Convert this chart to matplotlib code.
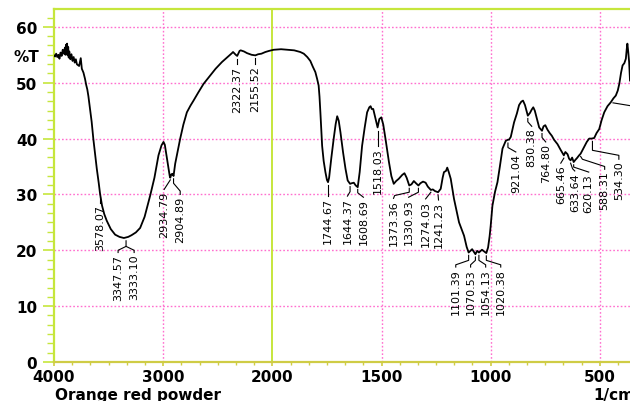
import numpy as np
import matplotlib
matplotlib.use("Agg")
import matplotlib.pyplot as plt
from matplotlib.ticker import AutoMinorLocator

# FTIR spectrum (wavenumber in 1/cm, transmittance in %T)
wavenumber = [
    4000, 3990, 3980, 3970, 3960, 3950, 3940, 3930, 3920, 3910, 3900, 3895,
    3890, 3885, 3880, 3875, 3870, 3865, 3860, 3850, 3840, 3830, 3820, 3810,
    3800, 3790, 3770, 3755, 3745, 3730, 3716, 3705, 3695, 3685, 3670, 3655,
    3640, 3625, 3608, 3590, 3578, 3560, 3540, 3517, 3480, 3440, 3400, 3360,
    3340, 3320, 3290, 3250, 3211, 3170, 3119, 3080, 3043, 3015, 2997, 2985,
    2970, 2955, 2940, 2935, 2925, 2915, 2905, 2890, 2870, 2844, 2815, 2783,
    2750, 2722, 2680, 2630, 2569, 2520, 2462, 2410, 2370, 2360, 2335, 2322,
    2300, 2290, 2260, 2232, 2190, 2156, 2130, 2100, 2064, 2030, 1994, 1960,
    1930, 1900, 1872, 1856, 1840, 1826, 1815, 1803, 1795, 1788, 1784, 1780,
    1776, 1772, 1765, 1757, 1750, 1745, 1740, 1730, 1719, 1710, 1703, 1696,
    1688, 1676, 1665, 1655, 1644, 1637, 1627, 1618, 1609, 1600, 1589, 1577,
    1566, 1556, 1550, 1545, 1538, 1530, 1518, 1510, 1501, 1492, 1482, 1466,
    1455, 1444, 1433, 1421, 1405, 1395, 1385, 1373, 1363, 1352, 1342, 1331,
    1322, 1310, 1298, 1288, 1274, 1265, 1255, 1248, 1241, 1229, 1220, 1214,
    1205, 1199, 1192, 1183, 1168, 1145, 1122, 1110, 1101, 1085, 1070, 1062,
    1054, 1040, 1020, 1012, 1005, 1000, 992, 980, 969, 958, 946, 931,
    921, 916, 908, 893, 880, 870, 860, 852, 843, 836, 830, 820,
    812, 805, 798, 786, 778, 765, 758, 750, 740, 730, 720, 710,
    694, 680, 665, 658, 648, 641, 634, 627, 620, 612, 605, 595,
    588, 580, 572, 560, 549, 538, 526, 515, 503, 492, 480, 465,
    450, 438, 427, 418, 411, 403, 396, 388, 381, 377, 374, 370,
    366, 362,
]
transmittance = [
    54.9, 54.7, 55.2, 54.6, 55.0, 54.3, 55.4, 54.8, 55.9, 55.2, 56.3, 55.0,
    56.8, 55.3, 57.0, 54.9, 56.4, 54.5, 55.6, 54.2, 55.1, 53.9, 54.6, 53.6,
    54.2, 53.3, 53.0, 54.4, 52.5, 51.8, 50.7, 49.6, 48.8, 47.6, 45.3, 43.0,
    40.0, 37.5, 34.6, 32.0, 30.1, 28.0, 26.5, 25.3, 23.8, 22.8, 22.4, 22.2,
    22.3, 22.4, 22.7, 23.2, 24.0, 26.0, 29.8, 33.0, 37.0, 38.8, 39.4, 38.9,
    37.0, 35.0, 33.3, 33.0, 33.6, 33.7, 33.3, 35.5, 37.5, 40.0, 42.5, 44.7,
    45.9, 46.8, 48.2, 49.8, 51.3, 52.5, 53.7, 54.6, 55.3, 55.5, 55.0, 54.8,
    55.7, 55.8, 55.6, 55.3, 55.0, 54.9, 55.1, 55.2, 55.5, 55.7, 55.9, 56.0,
    55.9, 55.8, 55.5, 55.2, 54.6, 53.9, 52.9, 51.9, 50.7, 49.5, 47.5, 44.7,
    41.5, 38.7, 36.0, 34.0, 32.6, 32.2, 33.0, 36.5, 40.0, 42.6, 44.0, 43.2,
    41.1, 37.5, 34.6, 32.5, 31.9, 32.0, 32.1, 31.6, 31.3, 34.0, 38.7, 42.0,
    44.7, 45.6, 45.8, 45.3, 45.3, 44.0, 42.0, 43.5, 43.8, 42.5, 40.0, 35.8,
    33.3, 31.9, 32.4, 32.8, 33.5, 33.8, 33.0, 31.6, 31.8, 32.4, 32.0, 31.6,
    32.0, 32.3, 32.1, 31.4, 30.8, 30.9, 30.6, 30.5, 30.4, 31.0, 33.0, 34.0,
    34.2, 34.8, 34.0, 32.8, 29.2, 25.0, 22.6, 20.6, 19.6, 20.2, 19.3, 19.9,
    19.6, 20.1, 19.5, 20.5, 22.5, 24.4, 28.0, 30.5, 32.2, 35.0, 38.2, 39.6,
    39.8, 39.8, 40.3, 42.9, 44.5, 46.0, 46.6, 46.8, 46.0, 45.0, 44.1, 44.6,
    45.2, 45.6, 45.0, 43.2, 42.0, 41.4, 42.2, 42.4, 41.6, 41.0, 40.5, 39.8,
    39.0, 38.0, 37.0, 37.6, 37.2, 36.4, 36.1, 36.6, 35.8, 36.2, 36.5, 37.0,
    37.3, 37.9, 38.5, 39.4, 40.0, 40.0, 40.1, 41.0, 41.7, 43.3, 44.7, 45.8,
    46.5, 47.2, 47.7, 48.6, 49.8, 51.8, 53.1, 53.5, 54.3, 56.0, 57.0, 55.5,
    53.7, 50.4,
]

# peak labels and their leader paths (wavenumber, %T); text hangs below the last point
peak_labels = [
    "3578.07", "3347.57", "3333.10", "2934.79", "2904.89", "2322.37", "2155.52",
    "1744.67", "1644.37", "1608.69", "1518.03", "1373.36", "1330.93", "1274.03",
    "1241.23", "1101.39", "1070.53", "1054.13", "1020.38", "921.04", "830.38",
    "764.80", "665.46", "633.64", "620.13", "588.31", "534.30",
]
leaders = [
    [(3578, 29.6), (3578, 28.4)],
    [(3340, 21.7), (3340, 20.7), (3413, 20.0), (3413, 19.6)],
    [(3340, 20.7), (3266, 20.0), (3266, 19.6)],
    [(2935, 32.6), (2991, 30.9)],
    [(2905, 32.8), (2905, 32.0), (2844, 30.6), (2844, 30.0)],
    [(2322, 54.3), (2322, 53.3)],
    [(2156, 54.4), (2156, 53.3)],
    [(1745, 31.7), (1745, 29.7)],
    [(1644, 31.4), (1644, 30.5), (1656, 29.7)],
    [(1609, 30.9), (1609, 30.3), (1583, 29.5)],
    [(1518, 41.4), (1518, 38.6)],
    [(1373, 31.1), (1373, 30.4), (1440, 29.8), (1445, 29.3)],
    [(1331, 31.1), (1331, 30.4), (1376, 29.5)],
    [(1274, 30.4), (1298, 29.2)],
    [(1241, 29.9), (1239, 29.0)],
    [(1101, 19.1), (1101, 18.2), (1160, 17.4), (1160, 17.0)],
    [(1070, 18.8), (1070, 18.2), (1092, 17.4), (1092, 17.0)],
    [(1054, 19.1), (1054, 18.2), (1023, 17.4), (1023, 17.0)],
    [(1020, 19.0), (1020, 18.2), (954, 17.4), (954, 17.0)],
    [(921, 39.2), (921, 38.4), (885, 37.6)],
    [(830, 43.6), (830, 43.0), (812, 42.2)],
    [(765, 40.9), (765, 40.2), (748, 39.4)],
    [(665, 36.5), (679, 35.6)],
    [(634, 35.6), (625, 34.6), (615, 34.2)],
    [(620, 35.3), (620, 34.9), (551, 34.0)],
    [(588, 36.8), (580, 36.3), (478, 35.0), (478, 34.5)],
    [(534, 39.5), (534, 37.9), (413, 37.0), (413, 36.3)],
]
# leader of a label that sits outside the cropped frame
offframe_leader = [(440, 46.4), (362, 45.9)]


def fwd(x):
    x = np.asarray(x, dtype=float)
    return np.where(x >= 2000, x, 2000 - 2 * (2000 - x))


def inv(u):
    u = np.asarray(u, dtype=float)
    return np.where(u >= 2000, u, 2000 - (2000 - u) / 2)


FRAME = "#c6e63c"
AXIS_B = "#cfcc45"
GRID = "#ff6fcf"

fig = plt.figure(figsize=(6.3, 4.02), dpi=100)
ax = fig.add_axes([54 / 630, 39 / 402, 576 / 630, 353 / 402])
ax.set_xscale("function", functions=(fwd, inv))
ax.set_xlim(4000, 362)
ax.set_ylim(0, 63.2)

# grid
for y in range(10, 61, 10):
    ax.axhline(y, color=GRID, lw=1.0, ls=(0, (1.2, 1.5)), zorder=1)
for x in (3000, 1500, 1000, 500):
    ax.axvline(x, color=GRID, lw=1.0, ls=(0, (1.2, 1.5)), zorder=1)
ax.axvline(2000, color=FRAME, lw=1.4, zorder=1)

ax.plot(wavenumber, transmittance, color="black", lw=1.3, zorder=3)

for label, path in zip(peak_labels, leaders):
    xs, ys = zip(*path)
    ax.plot(xs, ys, color="black", lw=0.8, zorder=3)
    ax.text(xs[-1], ys[-1] - 0.2, label, rotation=90, ha="center", va="top",
            fontsize=8, family="DejaVu Sans", zorder=4)
xs, ys = zip(*offframe_leader)
ax.plot(xs, ys, color="black", lw=0.8, zorder=3)

# frame
for side in ("left", "top"):
    ax.spines[side].set_color(FRAME)
    ax.spines[side].set_linewidth(1.6)
ax.spines["right"].set_visible(False)
ax.spines["bottom"].set_color(AXIS_B)
ax.spines["bottom"].set_linewidth(1.6)
ax.spines["bottom"].set_linestyle((0, (2, 1)))

ax.set_xticks([4000, 3000, 2000, 1500, 1000, 500])
ax.set_xticklabels(["4000", "3000", "2000", "1500", "1000", "500"])
minor_x = list(np.arange(4000, 2000, -1000 / 6)) + list(np.arange(2000, 362, -500 / 6))
ax.set_xticks([m for m in minor_x if round(m) not in (4000, 3000, 2000, 1500, 1000, 500)], minor=True)
ax.set_yticks(range(0, 61, 10))
ax.yaxis.set_minor_locator(AutoMinorLocator(6))

ax.tick_params(axis="both", which="both", direction="out", colors=FRAME, labelcolor="black")
ax.tick_params(axis="y", which="major", length=8, width=1.2, pad=4)
ax.tick_params(axis="y", which="minor", length=5, width=1.0)
ax.tick_params(axis="x", which="major", length=3, width=1.2, pad=2, colors=AXIS_B, labelcolor="black")
ax.tick_params(axis="x", which="minor", length=2.5, width=1.0, colors=AXIS_B)
for lab in ax.get_xticklabels() + ax.get_yticklabels():
    lab.set_fontsize(11)
    lab.set_fontweight("bold")

fig.text(13 / 630, 1 - 57 / 402, "%T", fontsize=11, fontweight="bold", va="center", ha="left")
fig.text(55 / 630, 1 - 388 / 402, "Orange red powder", fontsize=11, fontweight="bold",
         va="top", ha="left")
fig.text(593 / 630, 1 - 388 / 402, "1/cm", fontsize=11, fontweight="bold", va="top", ha="left")

fig.savefig("out.png", dpi=100)
